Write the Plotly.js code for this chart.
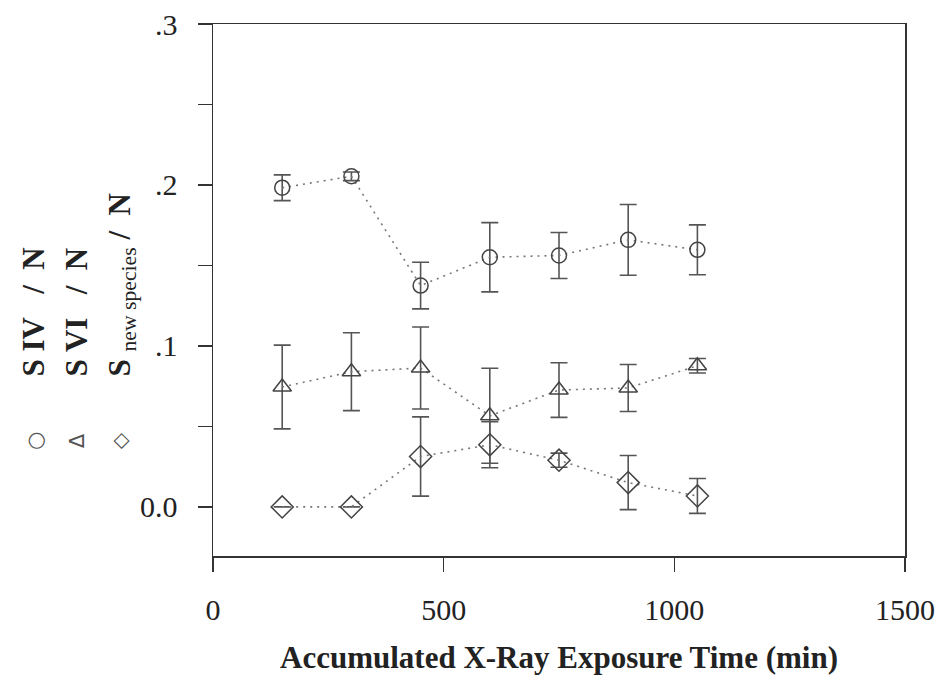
<!DOCTYPE html>
<html>
<head>
<meta charset="utf-8">
<script src="https://cdn.plot.ly/plotly-3.0.1.min.js"></script>
<style>html,body{margin:0;padding:0;background:#fff;}#chart{width:938px;height:679px;}</style>
</head>
<body>
<div id="chart"></div>
<script>
// Data
const timeMin = [150, 300, 450, 600, 750, 900, 1050];

const sIV      = [0.1983, 0.2054, 0.1375, 0.1551, 0.1562, 0.1659, 0.1597];
const sIVErr   = [0.0080, 0.0027, 0.0145, 0.0215, 0.0143, 0.0220, 0.0155];

const sVI      = [0.0745, 0.0840, 0.0863, 0.0566, 0.0726, 0.0739, 0.0877];
const sVIErr   = [0.0260, 0.0242, 0.0255, 0.0295, 0.0170, 0.0146, 0.0045];

const sNew     = [0.0000, 0.0000, 0.0313, 0.0386, 0.0290, 0.0151, 0.0068];
const sNewErr  = [null, null, 0.0246, 0.0143, 0.0044, 0.0168, 0.0108];

const yTickVals = [0, 0.1, 0.2, 0.3];
const yTickText = ['0.0', '.1', '.2', '.3'];
const yMinorVals = [0.05, 0.15, 0.25];
const xTickVals = [0, 500, 1000, 1500];
const xTickText = ['0', '500', '1000', '1500'];

const markColor = '#444';
const FONT = 'Liberation Serif, Times New Roman, serif';

function series(y, err, symbol, size, name) {
  return {
    x: timeMin, y: y, name: name, type: 'scatter', mode: 'lines+markers',
    line: {color: '#777', width: 1.6, dash: '2px,5px'},
    marker: {symbol: symbol, size: size, color: markColor, line: {color: markColor, width: 1.5}},
    error_y: {type: 'data', array: err, visible: true, color: '#555', thickness: 1.6, width: 8.5},
    cliponaxis: false
  };
}

const data = [
  series(sIV, sIVErr, 'circle-open', 15, 'S IV / N'),
  series(sVI, sVIErr, 'triangle-up-open', 16, 'S VI / N'),
  series(sNew, sNewErr, 'diamond-open', 17, 'S new species / N')
];

const NB = '\u00A0';
const layout = {
  width: 938, height: 679,
  margin: {l: 213, r: 33, t: 24, b: 123},
  paper_bgcolor: '#fff', plot_bgcolor: '#fff',
  showlegend: false,
  font: {family: FONT, color: '#222'},
  xaxis: {
    range: [0, 1500], tickvals: xTickVals, ticktext: xTickText,
    showgrid: false, zeroline: false,
    showline: true, mirror: true, linecolor: '#333', linewidth: 1.5,
    ticks: 'outside', ticklen: 14, tickwidth: 1.5, tickcolor: '#333',
    ticklabelstandoff: 12,
    tickfont: {family: FONT, size: 30, color: '#222'},
    title: {text: '<b>Accumulated X-Ray Exposure Time (min)</b>', standoff: 22,
            font: {family: FONT, size: 31, color: '#222'}}
  },
  yaxis: {
    range: [-0.0305, 0.3], tickvals: yTickVals, ticktext: yTickText,
    showgrid: false, zeroline: false,
    showline: true, mirror: true, linecolor: '#333', linewidth: 1.5,
    ticks: 'outside', ticklen: 14, tickwidth: 1.5, tickcolor: '#333',
    minor: {tickmode: 'array', tickvals: yMinorVals, ticks: 'outside', ticklen: 14,
            tickwidth: 1.5, tickcolor: '#333', showgrid: false},
    ticklabelstandoff: 14,
    tickfont: {family: FONT, size: 30, color: '#222'}
  },
  annotations: [
    {text: '○', x: 35, y: 441},
    {text: '∆', x: 77, y: 441},
    {text: '◇', x: 120, y: 441}
  ].map(a => ({
    text: a.text, xref: 'paper', yref: 'paper',
    x: (a.x - 213) / 692, y: (556 - a.y) / 532,
    xanchor: 'center', yanchor: 'middle', textangle: -90, showarrow: false,
    font: {family: 'DejaVu Sans, sans-serif', size: 21, color: '#555'}
  })).concat([
    {text: '<b>S IV</b>' + NB + NB + NB + '<b>/</b>' + NB + NB + '<b>N</b>', x: 33},
    {text: '<b>S VI</b>' + NB + NB + NB + '<b>/</b>' + NB + NB + '<b>N</b>', x: 76},
    {text: '<b>S</b>' + NB + '<sub>new species</sub>' + NB + '<b>/</b>' + NB + NB + '<b>N</b>', x: 121}
  ].map(a => ({
    text: a.text, xref: 'paper', yref: 'paper',
    x: (a.x - 213) / 692, y: (556 - 379) / 532,
    xanchor: 'center', yanchor: 'bottom', textangle: -90, showarrow: false,
    font: {family: FONT, size: 31, color: '#222'}
  })))
};

Plotly.newPlot('chart', data, layout, {displayModeBar: false, staticPlot: true});
</script>
</body>
</html>
